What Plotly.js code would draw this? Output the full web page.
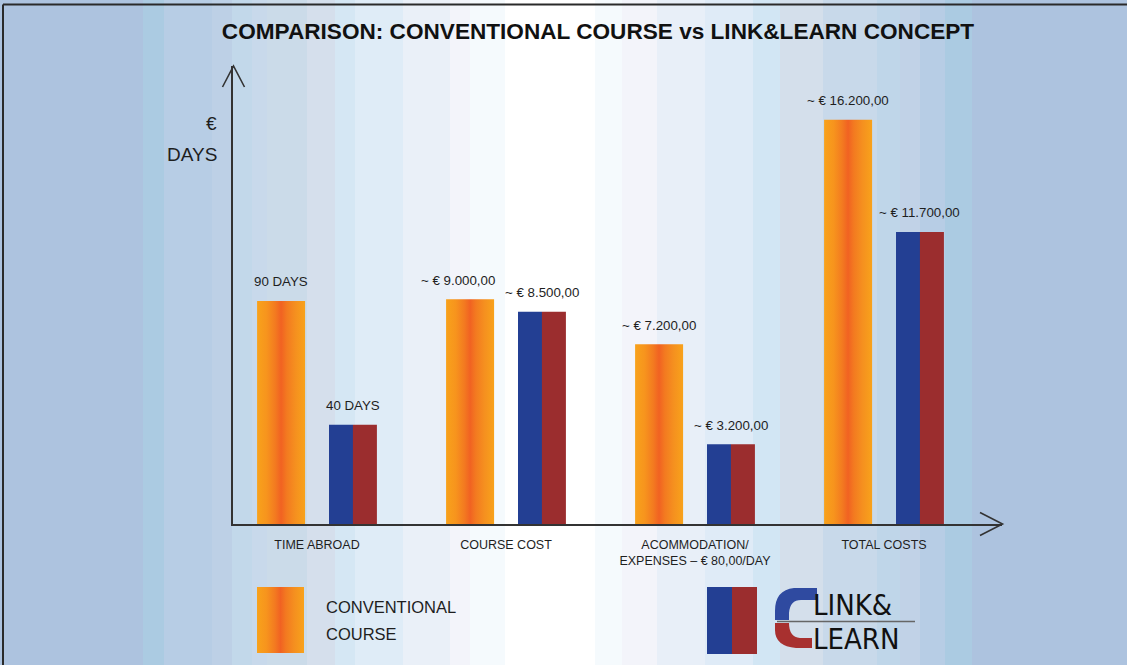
<!DOCTYPE html>
<html>
<head>
<meta charset="utf-8">
<script src="https://cdn.plot.ly/plotly-3.0.1.min.js"></script>
<style>
  html, body { margin: 0; padding: 0; }
  #chart {
    width: 1127px; height: 665px;
    background: linear-gradient(to right,
      #adc3df 0px, #adc3df 143px,
      #abcbe2 143px, #abcbe2 164px,
      #b7cde5 164px, #b7cde5 212px,
      #bdd0e6 212px, #bdd0e6 232px,
      #c2d8ea 232px, #c2d8ea 252px,
      #c8d9eb 252px, #c8d9eb 267px,
      #cbdbe9 267px, #cbdbe9 307px,
      #d5dfec 307px, #d5dfec 335px,
      #d5e7f4 335px, #d5e7f4 355px,
      #dfecf7 355px, #dfecf7 403px,
      #eaf0f8 403px, #eaf0f8 450px,
      #f3f4fa 450px, #f3f4fa 470px,
      #f5fafd 470px, #f5fafd 505px,
      #ffffff 505px, #ffffff 595px,
      #f5fafd 595px, #f5fafd 622px,
      #f3f4fa 622px, #f3f4fa 657px,
      #e8eff8 657px, #e8eff8 705px,
      #dfebf7 705px, #dfebf7 753px,
      #d2e6f4 753px, #d2e6f4 780px,
      #d4dfeb 780px, #d4dfeb 823px,
      #c8d9ea 823px, #c8d9ea 877px,
      #bfd6e9 877px, #bfd6e9 900px,
      #c1d2e7 900px, #c1d2e7 920px,
      #b7cde5 920px, #b7cde5 945px,
      #abcbe2 945px, #abcbe2 972px,
      #adc3df 972px, #adc3df 1127px);
  }
</style>
</head>
<body>
<div id="chart"></div>
<script>
// ---- data ----
const categories = ['TIME ABROAD', 'COURSE COST', 'ACOMMODATION/<br>EXPENSES – € 80,00/DAY', 'TOTAL COSTS'];
const units = ['days', 'eur', 'eur', 'eur'];
const conventional = [90, 9000, 7200, 16200];
const linkLearn = [40, 8500, 3200, 11700];
const titleText = 'COMPARISON: CONVENTIONAL COURSE vs LINK&LEARN CONCEPT';
const legendConventional = ['CONVENTIONAL', 'COURSE'];
const logoWords = ['LINK&', 'LEARN'];

// ---- colours / layout constants ----
const ORANGE = 'rgb(247, 148, 29)';
const BLUE = '#233f93';
const RED = '#9b2d2e';
const W = 1127, H = 665;
const L = 233, R = 1002, T = 66, B = 524;
const plotW = R - L, plotH = B - T;
const px = x => (x - L) / plotW;
const py = y => (B - y) / plotH;
const P = (x, y) => px(x).toFixed(5) + ',' + py(y).toFixed(5);

function fmtEur(v) {
  const s = String(Math.round(v));
  let out = '';
  for (let i = 0; i < s.length; i++) {
    if (i > 0 && (s.length - i) % 3 === 0) out += '.';
    out += s[i];
  }
  return '~ € ' + out + ',00';
}
function label(v, u) { return u === 'days' ? v + ' DAYS' : fmtEur(v); }

const idx = categories.map((_, i) => i);
const dayIdx = idx.filter(i => units[i] === 'days');
const eurIdx = idx.filter(i => units[i] === 'eur');

function barTrace(ids, vals, color, offset, width, yaxis, name) {
  return {
    type: 'bar', x: ids, y: ids.map(i => vals[i]),
    offset: offset, width: width, yaxis: yaxis, name: name,
    marker: { color: color, line: { width: 0 } },
    hoverinfo: 'skip', showlegend: false
  };
}

const traces = [];
[[dayIdx, 'y2'], [eurIdx, 'y']].forEach(([ids, ax]) => {
  traces.push(barTrace(ids, conventional, ORANGE, -0.317, 0.254, ax, 'Conventional course'));
  traces.push(barTrace(ids, linkLearn, BLUE, 0.0635, 0.127, ax, 'Link&Learn'));
  traces.push(barTrace(ids, linkLearn, RED, 0.19, 0.127, ax, 'Link&Learn'));
});

const valFont = { family: 'Liberation Sans, Arial, sans-serif', size: 13.3, color: '#1e1e1e' };
const annotations = [];
idx.forEach(i => {
  const yref = units[i] === 'days' ? 'y2' : 'y';
  annotations.push({
    x: i - 0.19, y: conventional[i], xref: 'x', yref: yref, yshift: 19,
    xshift: (i === 1 ? -12 : 0),
    text: label(conventional[i], units[i]), showarrow: false, font: valFont,
    xanchor: 'center', yanchor: 'middle'
  });
  annotations.push({
    x: i + 0.19, y: linkLearn[i], xref: 'x', yref: yref, yshift: 19,
    text: label(linkLearn[i], units[i]), showarrow: false, font: valFont,
    xanchor: 'center', yanchor: 'middle'
  });
});

const axFont = { family: 'Liberation Sans, Arial, sans-serif', size: 19, color: '#1e1e1e' };
annotations.push({ xref: 'paper', yref: 'paper', x: px(219), y: py(124), text: '€', showarrow: false, xanchor: 'right', yanchor: 'middle', font: axFont });
annotations.push({ xref: 'paper', yref: 'paper', x: px(219), y: py(155), text: 'DAYS', showarrow: false, xanchor: 'right', yanchor: 'middle', font: axFont });

const legFont = { family: 'Liberation Sans, Arial, sans-serif', size: 16.5, color: '#1e1e1e' };
annotations.push({ xref: 'paper', yref: 'paper', x: px(324), y: py(607), text: legendConventional[0], showarrow: false, xanchor: 'left', yanchor: 'middle', font: legFont });
annotations.push({ xref: 'paper', yref: 'paper', x: px(324), y: py(634), text: legendConventional[1], showarrow: false, xanchor: 'left', yanchor: 'middle', font: legFont });

const logoFont = { family: 'Liberation Sans Narrow, DejaVu Sans Condensed, Arial, sans-serif', size: 29, color: '#111' };
annotations.push({ xref: 'paper', yref: 'paper', x: px(812), y: py(604.5), text: logoWords[0], showarrow: false, xanchor: 'left', yanchor: 'middle', borderpad: 0, font: logoFont });
annotations.push({ xref: 'paper', yref: 'paper', x: px(812), y: py(638.5), text: logoWords[1], showarrow: false, xanchor: 'left', yanchor: 'middle', borderpad: 0, font: logoFont });

const shapes = [
  // frame
  { type: 'line', xref: 'paper', yref: 'paper', x0: px(3), x1: px(1127), y0: py(4.5), y1: py(4.5), line: { color: '#2a2a2a', width: 2 } },
  { type: 'line', xref: 'paper', yref: 'paper', x0: px(3), x1: px(3), y0: py(4.5), y1: py(665), line: { color: '#2a2a2a', width: 2 } },
  // axis arrows
  { type: 'path', xref: 'paper', yref: 'paper', path: 'M' + P(222.5, 87) + ' L' + P(233.5, 66) + ' L' + P(244.5, 87), line: { color: '#333', width: 1.6 } },
  { type: 'path', xref: 'paper', yref: 'paper', path: 'M' + P(980, 512.5) + ' L' + P(1002.5, 524) + ' L' + P(980, 535.5), line: { color: '#333', width: 1.6 } },
  // legend boxes
  { type: 'rect', xref: 'paper', yref: 'paper', x0: px(257), x1: px(304), y0: py(653), y1: py(587), fillcolor: ORANGE, line: { width: 0 } },
  { type: 'rect', xref: 'paper', yref: 'paper', x0: px(707), x1: px(732), y0: py(654), y1: py(587), fillcolor: BLUE, line: { width: 0 } },
  { type: 'rect', xref: 'paper', yref: 'paper', x0: px(732), x1: px(757), y0: py(654), y1: py(587), fillcolor: RED, line: { width: 0 } },
  // logo
  { type: 'path', xref: 'paper', yref: 'paper', fillcolor: '#2f4aa0', line: { width: 0 },
    path: 'M' + P(817, 588) + ' L' + P(794, 588) + ' Q' + P(775, 590) + ' ' + P(775, 611) + ' L' + P(775, 620) + ' L' + P(789, 620) + ' L' + P(789, 613) + ' Q' + P(790, 600) + ' ' + P(801, 600) + ' L' + P(817, 600) + ' Z' },
  { type: 'path', xref: 'paper', yref: 'paper', fillcolor: '#a8302f', line: { width: 0 },
    path: 'M' + P(775, 623) + ' L' + P(789, 623) + ' Q' + P(789, 637) + ' ' + P(800, 638) + ' L' + P(812, 638) + ' L' + P(812, 648) + ' L' + P(796, 648) + ' Q' + P(775, 646) + ' ' + P(775, 630) + ' Z' },
  { type: 'line', xref: 'paper', yref: 'paper', x0: px(777), x1: px(915), y0: py(621.5), y1: py(621.5), line: { color: '#666', width: 1.5 } }
];

const layout = {
  width: W, height: H,
  margin: { l: L, r: W - R, t: T, b: H - B, pad: 0 },
  paper_bgcolor: 'rgba(0,0,0,0)', plot_bgcolor: 'rgba(0,0,0,0)',
  barmode: 'overlay',
  title: {
    text: titleText, xref: 'container', yref: 'container',
    x: 598 / W, y: 1 - 31 / H, xanchor: 'center', yanchor: 'middle',
    font: { family: 'Liberation Sans, Arial, sans-serif', size: 22.6, color: '#111', weight: 'bold' }
  },
  xaxis: {
    range: [-0.4444, 3.6243], tickvals: idx, ticktext: categories,
    showline: true, linecolor: '#333', linewidth: 2, ticks: '', showgrid: false, zeroline: false,
    ticklabelstandoff: 8,
    tickfont: { family: 'Liberation Sans, Arial, sans-serif', size: 12.5, color: '#1e1e1e' },
    fixedrange: true
  },
  yaxis: {
    range: [0, 18350], showline: true, linecolor: '#333', linewidth: 2,
    showticklabels: false, ticks: '', showgrid: false, zeroline: false, fixedrange: true
  },
  yaxis2: {
    range: [0, 184.8], overlaying: 'y', visible: false, showgrid: false, zeroline: false, fixedrange: true
  },
  annotations: annotations,
  shapes: shapes,
  showlegend: false
};

Plotly.newPlot('chart', traces, layout, { staticPlot: true, displayModeBar: false }).then(gd => {
  const svg = gd.querySelector('.main-svg');
  const NS = 'http://www.w3.org/2000/svg';
  let defs = svg.querySelector('defs');
  if (!defs) { defs = document.createElementNS(NS, 'defs'); svg.insertBefore(defs, svg.firstChild); }
  const g = document.createElementNS(NS, 'linearGradient');
  g.setAttribute('id', 'orangeGrad');
  g.setAttribute('x1', '0'); g.setAttribute('x2', '1'); g.setAttribute('y1', '0'); g.setAttribute('y2', '0');
  [[0, '#f8a21b'], [0.2, '#f7941d'], [0.38, '#f37a20'], [0.5, '#f16222'], [0.62, '#f37a20'], [0.8, '#f5901f'], [1, '#f8a21b']].forEach(([o, c]) => {
    const s = document.createElementNS(NS, 'stop');
    s.setAttribute('offset', o); s.setAttribute('stop-color', c);
    g.appendChild(s);
  });
  defs.appendChild(g);
  document.querySelectorAll('#chart path').forEach(p => {
    if (p.style.fill === ORANGE) p.style.fill = 'url(#orangeGrad)';
  });
});
</script>
</body>
</html>
